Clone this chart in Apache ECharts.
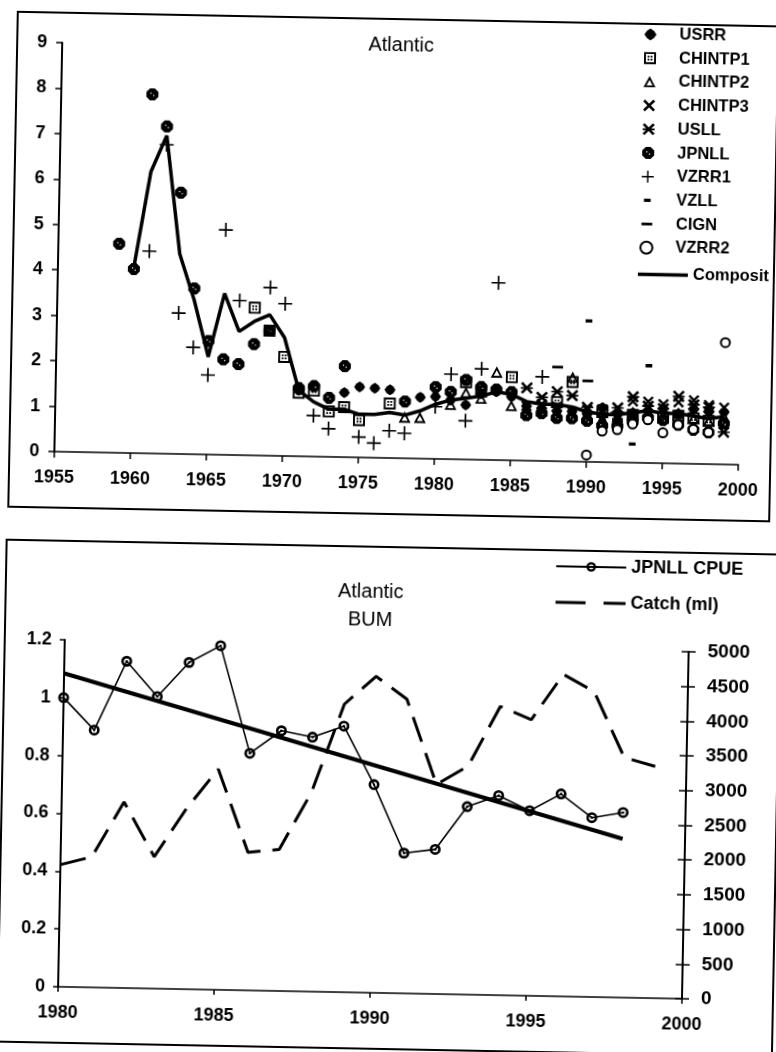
<!DOCTYPE html>
<html>
<head>
<meta charset="utf-8">
<script src="https://cdn.jsdelivr.net/npm/echarts@6.0.0/dist/echarts.min.js"></script>
<style>
  html, body { margin: 0; padding: 0; background: #fff; overflow: hidden; width: 776px; height: 1052px; }
  #sheet { width: 776px; height: 1052px; transform: rotate(1.1deg); transform-origin: 388px 526px; }
  #chart { width: 900px; height: 1052px; }
</style>
</head>
<body>
<div id="sheet"><div id="chart"></div></div>
<script>
// ---- Upper panel: standardized CPUE indices, Atlantic ([year, index]) ----
const usrr = [[1971,1.45],[1974,1.42],[1975,1.55],[1976,1.53],[1977,1.5],[1979,1.35],[1980,1.37],[1981,1.3],[1982,1.2],[1983,1.45],[1984,1.5],[1985,1.4],[1986,1.2],[1987,1.15],[1988,1.1],[1989,1.1],[1990,1.05],[1991,1.2],[1992,1.05],[1993,1.1],[1994,1.15],[1995,1.2],[1996,1.1],[1997,1.2],[1998,1.15],[1999,1.15]];
const chintp1 = [[1968,3.25],[1969,2.75],[1970,2.18],[1971,1.4],[1972,1.45],[1973,1.0],[1974,1.1],[1975,0.82],[1977,1.2],[1982,1.7],[1983,1.5],[1985,1.83],[1988,1.3],[1989,1.75],[1991,1.1],[1993,1.05],[1995,1.0],[1996,1.05],[1997,1.0],[1998,0.95]];
const chintp2 = [[1978,0.9],[1979,0.9],[1981,1.2],[1982,1.47],[1983,1.35],[1984,1.93],[1985,1.2],[1986,1.05],[1987,1.1],[1988,1.0],[1989,1.85],[1990,1.05],[1991,0.95],[1992,1.0],[1993,1.1],[1994,1.05],[1995,1.0],[1996,1.1],[1997,1.0],[1998,0.95],[1999,1.05]];
const chintp3 = [[1986,1.2],[1987,1.25],[1988,1.2],[1989,1.1],[1990,1.15],[1991,1.1],[1992,1.2],[1993,1.35],[1994,1.35],[1995,1.3],[1996,1.35],[1997,1.4],[1998,1.3],[1999,1.25]];
const usll = [[1986,1.6],[1987,1.4],[1988,1.53],[1989,1.45],[1990,1.2],[1991,1.15],[1992,1.2],[1993,1.45],[1994,1.25],[1995,1.2],[1996,1.48],[1997,1.3],[1998,1.25],[1999,0.71]];
const jpnll = [[1959,4.6],[1960,4.05],[1961,7.9],[1962,7.2],[1963,5.75],[1964,3.65],[1965,2.5],[1966,2.1],[1967,2.0],[1968,2.45],[1969,2.75],[1971,1.5],[1972,1.55],[1973,1.3],[1974,2.0],[1978,1.25],[1980,1.58],[1981,1.48],[1982,1.75],[1983,1.6],[1984,1.55],[1985,1.5],[1986,1.0],[1987,1.05],[1988,0.95],[1989,0.95],[1990,0.9],[1991,0.8],[1992,0.8],[1993,0.9],[1994,1.0],[1995,0.95],[1996,0.85],[1997,0.75],[1998,0.7],[1999,0.9]];
const vzrr1 = [[1961,4.45],[1962,6.8],[1963,3.1],[1964,2.35],[1965,1.75],[1966,4.95],[1967,3.4],[1969,3.7],[1970,3.35],[1972,0.9],[1973,0.62],[1975,0.45],[1976,0.32],[1977,0.6],[1978,0.55],[1980,1.15],[1981,1.87],[1982,0.85],[1983,2.0],[1984,3.9],[1987,1.85],[1992,1.1]];
const vzll = [[1990,3.1],[1991,0.95],[1993,0.41],[1994,2.14]];
const cign = [[1988,2.07],[1990,1.78],[1992,0.95],[1996,0.9]];
const vzrr2 = [[1990,0.15],[1991,0.68],[1992,0.72],[1993,0.85],[1994,0.95],[1995,0.67],[1996,0.85],[1997,0.76],[1998,0.7],[1999,2.68]];
const composite = [[1960,4.1],[1961,6.2],[1962,7.0],[1963,4.4],[1964,3.4],[1965,2.15],[1966,3.55],[1967,2.72],[1968,2.95],[1969,3.1],[1970,2.6],[1971,1.45],[1972,1.2],[1973,1.05],[1974,1.05],[1975,0.95],[1976,0.95],[1977,1.0],[1978,0.95],[1979,1.05],[1980,1.2],[1981,1.3],[1982,1.35],[1983,1.4],[1984,1.5],[1985,1.45],[1986,1.3],[1987,1.25],[1988,1.25],[1989,1.2],[1990,1.1],[1991,1.05],[1992,1.05],[1993,1.1],[1994,1.15],[1995,1.1],[1996,1.1],[1997,1.05],[1998,1.0],[1999,1.05]];

// ---- Lower panel: Atlantic BUM, Japanese longline CPUE and catch ----
const bumYears = [1980,1981,1982,1983,1984,1985,1986,1987,1988,1989,1990,1991,1992,1993,1994,1995,1996,1997,1998,1999];
const jpnllCpue = [1.0,0.89,1.13,1.01,1.13,1.19,0.82,0.9,0.88,0.92,0.72,0.485,0.5,0.65,0.69,0.64,0.7,0.62,0.64];
const catchMt = [1760,1880,2680,1900,2600,3180,1990,2040,2870,4150,4560,4240,3020,3290,4160,3980,4640,4400,3460,3340];

// axis ranges / tick steps
const topYearTicks = { min: 1955, max: 2000, step: 5 };
const topIndexTicks = { min: 0, max: 9, step: 1 };
const bumYearTicks = { min: 1980, max: 2000, step: 5 };
const cpueTicks = { min: 0, max: 1.2, step: 0.2 };
const catchTicks = { min: 0, max: 5000, step: 500 };

const FONT = '"Liberation Sans", Arial, Helvetica, sans-serif';
const INK = '#000';

// marker shapes (10 x 10 boxes; tiny corner specks keep the box square)
const CORNERS = ' M0,0 L0.02,0 L0,0.02 Z M10,10 L9.98,10 L10,9.98 Z';
const SYM = {
  usrr: 'path://M5,0 L8,2 L10,5 L8,8 L5,10 L2,8 L0,5 L2,2 Z',
  chintp1: 'path://M0,0 H10 V10 H0 Z M1.6,1.6 V8.4 H8.4 V1.6 Z M3,3 H4.5 V4.5 H3 Z M5.5,3 H7 V4.5 H5.5 Z M3,5.5 H4.5 V7 H3 Z M5.5,5.5 H7 V7 H5.5 Z',
  chintp2: 'path://M5,0 L10,9.5 L0,9.5 Z M5,3.4 L2.5,7.9 L7.5,7.9 Z' + CORNERS,
  chintp3: 'path://M0,1.5 L1.5,0 L5,3.5 L8.5,0 L10,1.5 L6.5,5 L10,8.5 L8.5,10 L5,6.5 L1.5,10 L0,8.5 L3.5,5 Z',
  usll: 'path://M0,1.5 L1.5,0 L5,3.5 L8.5,0 L10,1.5 L6.5,5 L10,8.5 L8.5,10 L5,6.5 L1.5,10 L0,8.5 L3.5,5 Z M0,4.3 H10 V5.7 H0 Z',
  jpnll: 'path://M3,0 H7 L10,3 V7 L7,10 H3 L0,7 V3 Z M3.4,3.6 V4.6 H4.4 V3.6 Z M5.6,5.4 V6.4 H6.6 V5.4 Z',
  vzrr1: 'path://M4.4,0 H5.6 V4.4 H10 V5.6 H5.6 V10 H4.4 V5.6 H0 V4.4 H4.4 Z',
  vzll: 'path://M2.2,3.6 H7.8 V6.4 H2.2 Z' + CORNERS,
  cign: 'path://M0.5,3.9 H9.5 V6.1 H0.5 Z' + CORNERS,
  cpue: 'path://M5,0 A5,5 0 1,1 5,10 A5,5 0 1,1 5,0 Z M5,2.4 A2.6,2.6 0 1,0 5,7.6 A2.6,2.6 0 1,0 5,2.4 Z M5,3.9 A1.1,1.1 0 1,1 5,6.1 A1.1,1.1 0 1,1 5,3.9 Z',
  barIcon: 'path://M0,0 H50 V3.5 H0 Z',
  dashIcon: 'path://M0,0 H30 V3 H0 Z M48,0 H70 V3 H48 Z'
};

const scatterDefs = [
  { name: 'USRR', data: usrr, symbol: SYM.usrr, size: 11 },
  { name: 'CHINTP1', data: chintp1, symbol: SYM.chintp1, size: 12 },
  { name: 'CHINTP2', data: chintp2, symbol: SYM.chintp2, size: 12 },
  { name: 'CHINTP3', data: chintp3, symbol: SYM.chintp3, size: 11 },
  { name: 'USLL', data: usll, symbol: SYM.usll, size: 12 },
  { name: 'JPNLL', data: jpnll, symbol: SYM.jpnll, size: 12 },
  { name: 'VZRR1', data: vzrr1, symbol: SYM.vzrr1, size: 14 },
  { name: 'VZLL', data: vzll, symbol: SYM.vzll, size: 12 },
  { name: 'CIGN', data: cign, symbol: SYM.cign, size: 12 },
  { name: 'VZRR2', data: vzrr2, symbol: 'emptyCircle', size: 9 }
];

// least-squares trend of the JPNLL CPUE series
function trendLine(xs, ys) {
  const n = ys.length;
  let sx = 0, sy = 0, sxx = 0, sxy = 0;
  for (let i = 0; i < n; i++) { sx += xs[i]; sy += ys[i]; sxx += xs[i] * xs[i]; sxy += xs[i] * ys[i]; }
  const b = (n * sxy - sx * sy) / (n * sxx - sx * sx);
  const a = (sy - b * sx) / n;
  return [[xs[0], a + b * xs[0]], [xs[n - 1], a + b * xs[n - 1]]];
}
const cpueYears = bumYears.slice(0, jpnllCpue.length);
const cpuePairs = cpueYears.map((y, i) => [y, jpnllCpue[i]]);
const catchPairs = bumYears.map((y, i) => [y, catchMt[i]]);

const plain = v => String(Math.round(v * 100) / 100);
const labelStyle = (size, margin) => ({ color: INK, fontFamily: FONT, fontSize: size, fontWeight: 'bold', margin: margin, formatter: plain });
const line = (w) => ({ show: true, onZero: false, lineStyle: { color: INK, width: w } });
const ticks = (len, inside) => ({ show: true, length: len, inside: !!inside, lineStyle: { color: INK, width: 1.5 } });

const series = scatterDefs.map(d => ({
  type: 'scatter', name: d.name, xAxisIndex: 0, yAxisIndex: 0,
  data: d.data, symbol: d.symbol, symbolSize: d.size, z: 3,
  itemStyle: d.symbol === 'emptyCircle'
    ? { color: INK, borderColor: INK, borderWidth: 2.4, opacity: 1 }
    : { color: INK, borderWidth: 0, opacity: 1 }
}));
series.push({
  type: 'line', name: 'Composit', xAxisIndex: 0, yAxisIndex: 0, data: composite,
  symbol: 'none', z: 2, lineStyle: { color: INK, width: 3.5 }, itemStyle: { color: INK }
});
series.push({
  type: 'line', name: 'JPNLL CPUE', xAxisIndex: 1, yAxisIndex: 1, data: cpuePairs,
  symbol: SYM.cpue, symbolSize: 11, z: 4,
  lineStyle: { color: INK, width: 1.6 }, itemStyle: { color: INK, opacity: 1 }
});
series.push({
  type: 'line', name: 'trend', xAxisIndex: 1, yAxisIndex: 1, data: trendLine(cpueYears, jpnllCpue),
  symbol: 'none', z: 3, lineStyle: { color: INK, width: 4 }, itemStyle: { color: INK }
});
series.push({
  type: 'line', name: 'Catch (ml)', xAxisIndex: 1, yAxisIndex: 2, data: catchPairs,
  symbol: 'none', z: 2, lineStyle: { color: INK, width: 3, type: [26, 12] }, itemStyle: { color: INK }
});

const legendText = (size, lh) => ({ color: INK, fontFamily: FONT, fontSize: size, fontWeight: 'bold', lineHeight: lh });

const option = {
  animation: false,
  backgroundColor: '#fff',
  grid: [
    { left: 53, top: 49, width: 684, height: 409 },
    { left: 67, top: 646, width: 624, height: 347 }
  ],
  xAxis: [
    { type: 'value', gridIndex: 0, min: topYearTicks.min, max: topYearTicks.max, interval: topYearTicks.step,
      axisLine: line(1.6), axisTick: ticks(6), splitLine: { show: false }, axisLabel: labelStyle(18, 17) },
    { type: 'value', gridIndex: 1, min: bumYearTicks.min, max: bumYearTicks.max, interval: bumYearTicks.step,
      axisLine: line(1.6), axisTick: ticks(5), splitLine: { show: false }, axisLabel: labelStyle(18, 17) }
  ],
  yAxis: [
    { type: 'value', gridIndex: 0, min: topIndexTicks.min, max: topIndexTicks.max, interval: topIndexTicks.step,
      axisLine: line(2), axisTick: ticks(6), splitLine: { show: false }, axisLabel: labelStyle(18, 15) },
    { type: 'value', gridIndex: 1, position: 'left', min: cpueTicks.min, max: cpueTicks.max, interval: cpueTicks.step,
      axisLine: line(2), axisTick: ticks(5), splitLine: { show: false }, axisLabel: labelStyle(18, 13) },
    { type: 'value', gridIndex: 1, position: 'right', min: catchTicks.min, max: catchTicks.max, interval: catchTicks.step,
      axisLine: line(2), axisTick: ticks(7), splitLine: { show: false }, axisLabel: labelStyle(19, 19) },
    { type: 'value', gridIndex: 1, position: 'right', min: catchTicks.min, max: catchTicks.max, interval: catchTicks.step,
      axisLine: { show: false }, axisTick: ticks(7, true), splitLine: { show: false }, axisLabel: { show: false } }
  ],
  legend: [
    { data: scatterDefs.map(d => d.name), orient: 'vertical', left: 629, top: 16,
      itemWidth: 48, itemHeight: 12, itemGap: 6.7, selectedMode: false, textStyle: legendText(16.5, 17) },
    { data: [{ name: 'Composit', icon: SYM.barIcon }], orient: 'vertical', left: 628, top: 256,
      itemWidth: 50, itemHeight: 12, selectedMode: false, textStyle: legendText(16.5, 17) },
    { data: ['JPNLL CPUE', { name: 'Catch (ml)', icon: SYM.dashIcon }], orient: 'vertical', left: 551, top: 549,
      itemWidth: 70, itemHeight: 12, itemGap: 18, selectedMode: false, textStyle: legendText(18, 18) }
  ],
  graphic: [
    { type: 'rect', shape: { x: 8, y: 19, width: 761, height: 495 }, style: { fill: 'none', stroke: INK, lineWidth: 2 } },
    { type: 'rect', shape: { x: 7, y: 547, width: 775, height: 502 }, style: { fill: 'none', stroke: INK, lineWidth: 2 } },
    { type: 'text', x: 392, y: 45, style: { text: 'Atlantic', font: '20px ' + FONT, fill: INK, align: 'center', verticalAlign: 'middle' } },
    { type: 'text', x: 372, y: 592, style: { text: 'Atlantic', font: '20px ' + FONT, fill: INK, align: 'center', verticalAlign: 'middle' } },
    { type: 'text', x: 372, y: 620, style: { text: 'BUM', font: '20px ' + FONT, fill: INK, align: 'center', verticalAlign: 'middle' } }
  ],
  series: series
};

const chart = echarts.init(document.getElementById('chart'), null, { renderer: 'canvas' });
chart.setOption(option);
</script>
</body>
</html>
